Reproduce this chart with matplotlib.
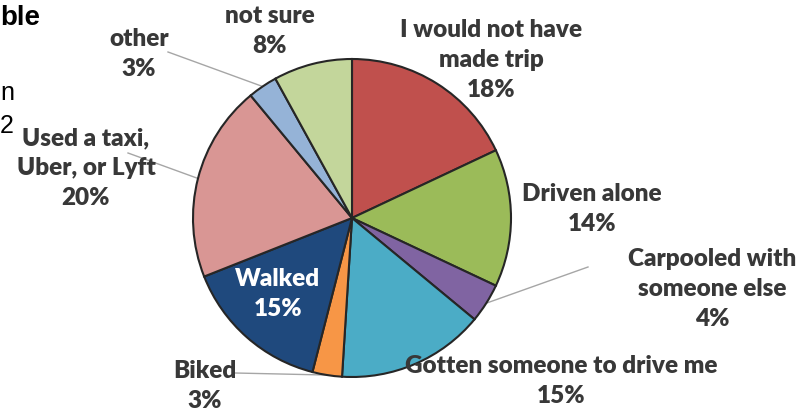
import numpy as np
import matplotlib
matplotlib.use("Agg")
import matplotlib.pyplot as plt

# How respondents would otherwise have made the trip
categories = [
    "I would not have\nmade trip",
    "Driven alone",
    "Carpooled with\nsomeone else",
    "Gotten someone to drive me",
    "Biked",
    "Walked",
    "Used a taxi,\nUber, or Lyft",
    "other",
    "not sure",
]
shares = [18, 14, 4, 15, 3, 15, 20, 3, 8]
colors = ["#C0504D", "#9BBB59", "#8064A2", "#4BACC6", "#F79646",
          "#1F497D", "#D99694", "#95B3D7", "#C3D69B"]

W, H = 809, 412
fig = plt.figure(figsize=(W / 100, H / 100), dpi=100)
ax = fig.add_axes([0, 0, 1, 1])

cx, cy, r = 352, H - 218, 159
wedges, _ = ax.pie(shares, colors=colors, startangle=90, counterclock=False,
                   center=(cx, cy), radius=r,
                   wedgeprops=dict(edgecolor="#262626", linewidth=1.5))
ax.set_xlim(0, W)
ax.set_ylim(0, H)
ax.set_aspect("equal")
ax.axis("off")

FONT = ["Lato", "DejaVu Sans"]
TXT = "#383838"

# label block centres (x, y measured from the top edge)
label_pos = {
    0: (491, 60),
    1: (592, 209),
    2: (712, 289),
    3: (561, 381),
    4: (205, 386),
    5: (278, 294),
    6: (86, 168),
    7: (139, 54),
    8: (270, 31),
}
# where the leader line leaves the label (x, y from top)
leaders = {2: (588, 267), 4: (235, 373), 6: (128, 153), 7: (168, 52)}

for i, (cat, val) in enumerate(zip(categories, shares)):
    x, y = label_pos[i]
    col = "white" if i == 5 else TXT
    ax.text(x, H - y, f"{cat}\n{val}%", ha="center", va="center",
            multialignment="center", fontsize=17.5, fontweight="heavy",
            family=FONT, color=col, linespacing=1.45)
    if i in leaders:
        w = wedges[i]
        mid = np.deg2rad((w.theta1 + w.theta2) / 2)
        px, py = cx + r * np.cos(mid), cy + r * np.sin(mid)
        lx, ly = leaders[i]
        ax.plot([lx, px], [H - ly, py], color="#a6a6a6", lw=1.0, zorder=0)

# fragments of the surrounding slide text at the left edge
SLIDE = ["Liberation Sans", "DejaVu Sans"]
ax.text(0, H - 25, "ble", ha="left", va="baseline", fontsize=20,
        fontweight="bold", family=SLIDE, color="black")
ax.text(0, H - 100, "n", ha="left", va="baseline", fontsize=18,
        family=SLIDE, color="black")
ax.text(0, H - 133, "2", ha="left", va="baseline", fontsize=18,
        family=SLIDE, color="black")

fig.savefig("out.png", dpi=100)
